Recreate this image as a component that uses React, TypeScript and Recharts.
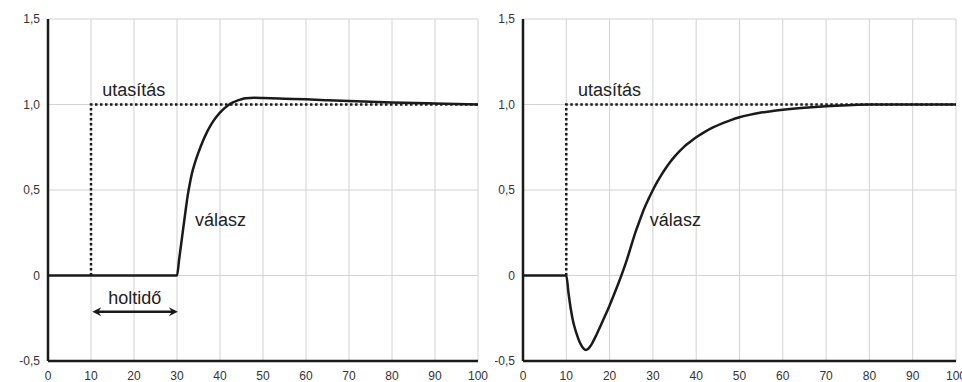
import React from 'react';
import {
  LineChart,
  Line,
  XAxis,
  YAxis,
  CartesianGrid,
  ReferenceDot,
  ReferenceLine,
} from 'recharts';

// axis ticks
const xTicks = [0, 10, 20, 30, 40, 50, 60, 70, 80, 90, 100];
const yTicks = [-0.5, 0, 0.5, 1, 1.5];

// command step (utasítás), same for both panels
const commandT = [10, 10, 100];
const commandY = [0, 1, 1];

// left panel response: dead time then fast rise with small overshoot
const leftT = [0, 30, 30.5, 31, 32, 32.5, 33, 33.5, 34, 35, 36, 37, 38, 39, 40, 41, 42, 43, 44, 45, 46, 48, 50, 55, 60, 65, 70, 80, 90, 100];
const leftY = [0, 0, 0.095, 0.19, 0.38, 0.47, 0.54, 0.6, 0.645, 0.72, 0.785, 0.84, 0.885, 0.922, 0.952, 0.977, 0.997, 1.012, 1.023, 1.031, 1.036, 1.039, 1.038, 1.034, 1.03, 1.025, 1.02, 1.012, 1.006, 1.0];

// right panel response: inverse response then slow rise
const rightT = [0, 10, 10.5, 11, 11.5, 12, 12.5, 13, 13.5, 14, 14.5, 15, 15.5, 16, 17, 18, 19, 20, 21, 22, 23, 24, 25, 26, 27, 28, 29, 30, 31, 32, 33, 34, 35, 36, 37, 38, 39, 40, 42, 44, 46, 48, 50, 52, 55, 58, 60, 65, 70, 75, 80, 90, 100];
const rightY = [0, 0, -0.1, -0.19, -0.26, -0.31, -0.35, -0.385, -0.41, -0.428, -0.435, -0.43, -0.415, -0.395, -0.345, -0.29, -0.233, -0.175, -0.113, -0.048, 0.02, 0.093, 0.175, 0.255, 0.325, 0.392, 0.448, 0.5, 0.547, 0.59, 0.629, 0.664, 0.695, 0.723, 0.748, 0.77, 0.79, 0.808, 0.84, 0.867, 0.89, 0.909, 0.925, 0.938, 0.953, 0.963, 0.969, 0.981, 0.99, 0.996, 1.0, 1.0, 1.0];

const zip = (t: number[], y: number[]) => t.map((x, i) => ({ x, y: y[i] }));

const commandData = zip(commandT, commandY);
const leftData = zip(leftT, leftY);
const rightData = zip(rightT, rightY);

const FONT = '"Liberation Sans", Arial, sans-serif';
const INK = '#1a1a1a';

const fmtY = (v: number) => (v === 0 ? '0' : v.toFixed(1).replace('.', ','));

// text anchored at a data point (left/baseline)
const textShape = (label: string) => (p: any) => (
  <text x={p.cx} y={p.cy} fontSize={18} fontFamily={FONT} fill="#222">
    {label}
  </text>
);

// double headed arrow for the dead time
const Arrow = (p: any) => {
  const { x1, y1, x2 } = p;
  const h = 9;
  const w = 4.5;
  return (
    <g>
      <line x1={x1 + 3} y1={y1} x2={x2 - 3} y2={y1} stroke={INK} strokeWidth={2.5} />
      <polygon
        points={`${x1},${y1} ${x1 + h},${y1 - w} ${x1 + h - 3},${y1} ${x1 + h},${y1 + w}`}
        fill={INK}
      />
      <polygon
        points={`${x2},${y1} ${x2 - h},${y1 - w} ${x2 - h + 3},${y1} ${x2 - h},${y1 + w}`}
        fill={INK}
      />
    </g>
  );
};

interface PanelProps {
  width: number;
  yAxisWidth: number;
  marginRight: number;
  response: { x: number; y: number }[];
  cmdLabel: { x: number; y: number };
  respLabel: { x: number; y: number };
  deadTime?: boolean;
}

const Panel: React.FC<PanelProps> = ({ width, yAxisWidth, marginRight, response, cmdLabel, respLabel, deadTime }) => (
  <LineChart width={width} height={382} margin={{ top: 19, right: marginRight, left: 0, bottom: 0 }}>
    <CartesianGrid stroke="#d2d2d2" strokeWidth={1} />
    <XAxis
      dataKey="x"
      type="number"
      domain={[0, 100]}
      ticks={xTicks}
      height={21}
      axisLine={{ stroke: INK, strokeWidth: 2.5 }}
      tickLine={false}
      tickSize={8}
      tickMargin={2}
      tick={{ fontSize: 12, fill: '#333', fontFamily: FONT }}
      interval={0}
    />
    <YAxis
      type="number"
      domain={[-0.5, 1.5]}
      ticks={yTicks}
      width={yAxisWidth}
      axisLine={{ stroke: INK, strokeWidth: 2.5 }}
      tickLine={false}
      tickFormatter={fmtY}
      tick={{ fontSize: 12, fill: '#333', fontFamily: FONT }}
      interval={0}
    />
    <Line
      data={commandData}
      dataKey="y"
      type="linear"
      stroke={INK}
      strokeWidth={2.5}
      strokeDasharray="2.5 2.5"
      dot={false}
      activeDot={false}
      isAnimationActive={false}
    />
    <Line
      data={response}
      dataKey="y"
      type="monotone"
      stroke={INK}
      strokeWidth={2.5}
      dot={false}
      activeDot={false}
      isAnimationActive={false}
    />
    <ReferenceDot x={cmdLabel.x} y={cmdLabel.y} r={0} shape={textShape('utasítás')} />
    <ReferenceDot x={respLabel.x} y={respLabel.y} r={0} shape={textShape('válasz')} />
    {deadTime && (
      <ReferenceDot x={14} y={-0.164} r={0} shape={textShape('holtidő')} />
    )}
    {deadTime && (
      <ReferenceLine
        segment={[
          { x: 10.3, y: -0.212 },
          { x: 30.2, y: -0.212 },
        ]}
        shape={Arrow}
      />
    )}
  </LineChart>
);

export default function App() {
  return (
    <div
      style={{
        position: 'absolute',
        left: 0,
        top: 0,
        width: 962,
        height: 382,
        display: 'flex',
        overflow: 'hidden',
        background: '#fff',
      }}
    >
      <Panel
        width={495}
        yAxisWidth={48}
        marginRight={17}
        response={leftData}
        cmdLabel={{ x: 12.6, y: 1.05 }}
        respLabel={{ x: 34.2, y: 0.29 }}
        deadTime
      />
      <Panel
        width={467}
        yAxisWidth={28}
        marginRight={6}
        response={rightData}
        cmdLabel={{ x: 12.7, y: 1.05 }}
        respLabel={{ x: 29.3, y: 0.29 }}
      />
    </div>
  );
}
